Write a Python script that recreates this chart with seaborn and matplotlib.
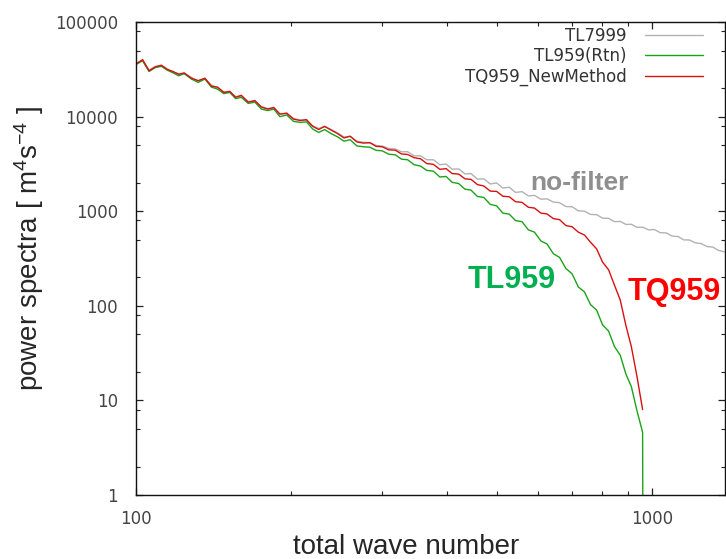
import matplotlib
matplotlib.use("Agg")
import matplotlib.pyplot as plt
import seaborn as sns
from matplotlib.ticker import LogLocator, NullFormatter

# total wave number grid
wn = [100, 103, 106, 109, 112, 115, 118, 121, 124, 128,
      132, 136, 140, 144, 148, 152, 156, 160, 165, 170,
      175, 180, 185, 190, 196, 202, 208, 214, 220, 226,
      232, 239, 246, 253, 260, 268, 276, 284, 292, 300,
      309, 318, 327, 336, 346, 356, 366, 377, 388, 399,
      410, 422, 434, 446, 459, 472, 486, 500, 514, 529,
      544, 560, 576, 592, 609, 626, 644, 662, 681, 700,
      720, 740, 760, 781, 802, 824, 846, 868, 890, 912,
      935, 959, 985, 1011, 1038, 1066, 1094, 1123, 1152, 1182,
      1213, 1245, 1278, 1311, 1345, 1380]

tl7999 = [36500, 39500, 31000, 34000, 34500, 32000, 29500, 28500, 28500, 26000,
          23800, 25000, 21500, 20000, 18300, 18200, 16300, 16500, 14500, 14500,
          12800, 12200, 12300, 10800, 10700, 9600, 9200, 9100, 8000, 7500,
          7800, 7300, 6700, 6100, 6200, 5500, 5350, 5300, 4950, 4900,
          4600, 4550, 4250, 4250, 3850, 3850, 3500, 3500, 3100, 3150,
          2780, 2800, 2480, 2500, 2180, 2200, 1940, 1990, 1760, 1790,
          1580, 1610, 1450, 1470, 1340, 1350, 1250, 1230, 1120, 1115,
          1010, 1000, 925, 920, 845, 840, 775, 780, 725, 728,
          675, 678, 635, 640, 592, 590, 545, 540, 498, 496,
          463, 455, 423, 418, 386, 372]

tl959 = [35500, 39000, 30000, 33000, 34000, 31000, 29000, 27000, 28500, 25000,
         23000, 25000, 20500, 19500, 17500, 18000, 15500, 16000, 13800, 14200,
         12000, 11600, 12000, 10000, 10400, 8900, 8700, 8800, 7400, 6800,
         7300, 6600, 6100, 5500, 5700, 4900, 4800, 4750, 4400, 4350,
         4000, 3950, 3550, 3500, 3100, 3000, 2700, 2650, 2300, 2330,
         2020, 1960, 1710, 1670, 1430, 1400, 1180, 1140, 955, 930,
         795, 775, 635, 600, 485, 450, 355, 325, 248, 218,
         158, 140, 103, 90, 63, 54, 37, 30, 19, 14,
         7.8, 4.6, 0.5]
tl959_k = wn[:82] + [960]

tq959 = [36000, 40000, 30500, 33500, 35000, 31500, 30000, 28000, 29000, 25500,
         24000, 25500, 21000, 20500, 18000, 18500, 16000, 16800, 14200, 14800,
         12600, 12000, 12500, 10600, 10900, 9400, 9100, 9300, 7900, 7300,
         7900, 7200, 6600, 5950, 6200, 5400, 5250, 5300, 4850, 4800,
         4450, 4420, 4030, 3980, 3680, 3580, 3190, 3130, 2770, 2820,
         2500, 2470, 2200, 2170, 1910, 1850, 1630, 1620, 1440, 1420,
         1260, 1240, 1100, 1080, 955, 935, 835, 815, 705, 685,
         600, 560, 470, 400, 290, 240, 165, 115, 62, 37,
         18, 8]
tq959_k = wn[:82]

sns.set_style("ticks")
plt.rcParams["font.family"] = ["DejaVu Sans"]
plt.rcParams["mathtext.fontset"] = "custom"
plt.rcParams["mathtext.rm"] = "Liberation Sans"
plt.rcParams["mathtext.it"] = "Liberation Sans:italic"
plt.rcParams["mathtext.bf"] = "Liberation Sans:bold"

fig = plt.figure(figsize=(7.26, 5.59), dpi=100)
ax = fig.add_axes([0.1873, 0.1145, 0.8113, 0.8461])

sns.lineplot(x=wn, y=tl7999, ax=ax, color="#b2b2b2", lw=1.0,
             estimator=None, sort=False, label="TL7999")
sns.lineplot(x=tl959_k, y=tl959, ax=ax, color="#1aa31a", lw=1.0,
             estimator=None, sort=False, label="TL959(Rtn)")
sns.lineplot(x=tq959_k, y=tq959, ax=ax, color="#d81010", lw=1.0,
             estimator=None, sort=False, label="TQ959_NewMethod")

ax.set_xscale("log")
ax.set_yscale("log")
ax.set_xlim(100, 1385)
ax.set_ylim(1, 100000)

ax.set_xticks([100, 1000])
ax.set_xticklabels(["100", "1000"])
ax.xaxis.set_minor_locator(LogLocator(base=10, subs=[2, 3, 4, 5, 6, 7, 8, 9]))
ax.xaxis.set_minor_formatter(NullFormatter())
ax.set_yticks([1, 10, 100, 1000, 10000, 100000])
ax.set_yticklabels(["1", "10", "100", "1000", "10000", "100000"])
ax.yaxis.set_minor_locator(LogLocator(base=10, subs=[2, 5, 8]))
ax.yaxis.set_minor_formatter(NullFormatter())

ax.tick_params(which="both", direction="in", top=True, right=True,
               colors="#222222", labelcolor="#444444", labelsize=12)
ax.tick_params(which="major", length=5, width=0.9)
ax.tick_params(which="minor", length=3, width=0.8)
ax.tick_params(axis="x", pad=11)
ax.tick_params(axis="y", pad=13)
for s in ax.spines.values():
    s.set_linewidth(1.0)
    s.set_color("#111111")

ax.set_xlabel("total wave number", fontsize=20, family="Liberation Sans")
ax.xaxis.set_label_coords(0.458, -0.082)
ax.set_ylabel("power spectra [ m$^4$s$^{-4}$ ]", fontsize=20, family="Liberation Sans")
ax.yaxis.set_label_coords(-0.152, 0.52)

ax.text(580, 1675, "no-filter", color="#8f8f8f", fontsize=19,
        fontweight="bold", family="Liberation Sans", va="baseline")
ax.text(440, 154, "TL959", color="#00b050", fontsize=22,
        fontweight="bold", family="Liberation Sans", va="baseline")
ax.text(895, 115, "TQ959", color="#ff0000", fontsize=22,
        fontweight="bold", family="Liberation Sans", va="baseline", clip_on=False)

leg = ax.legend(loc="upper right", bbox_to_anchor=(0.963, 0.99), frameon=False,
                markerfirst=False, fontsize=12, handlelength=3.5,
                handletextpad=1.1, labelspacing=0.15, borderpad=0, borderaxespad=0)
for t in leg.get_texts():
    t.set_color("#333333")

fig.savefig("out.png", dpi=100)
